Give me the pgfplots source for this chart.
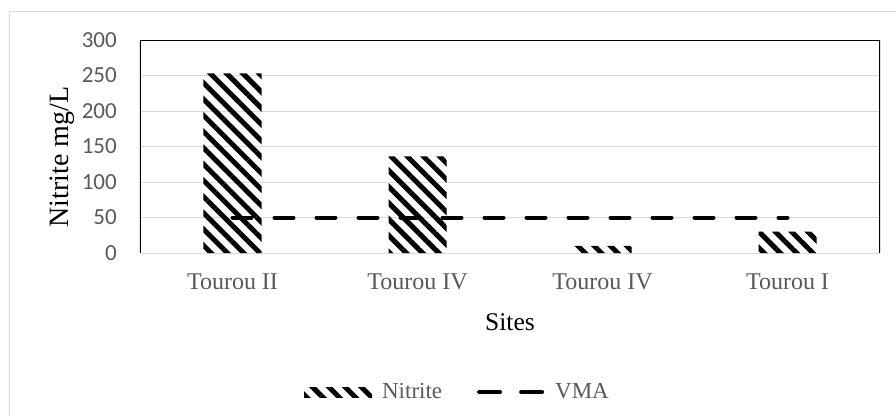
\documentclass[border=0pt]{standalone}
\usepackage{pgfplots}
\pgfplotsset{compat=1.18}
\usetikzlibrary{patterns.meta}
\usepackage{fontspec}
\setmainfont{Liberation Serif}
\newfontfamily\calibri{Carlito}
\definecolor{txtgray}{HTML}{595959}
\definecolor{gridgray}{HTML}{D9D9D9}
\tikzset{stripes/.style={pattern={Lines[angle=-45,distance=11.5pt,line width=5pt]},pattern color=black}}
\pgfplotsset{
  barlegend/.style={legend image code/.code={\fill[stripes] (0pt,-5pt) rectangle (68pt,5pt); \path (0pt,0pt) -- (76pt,0pt);}},
  linelegend/.style={legend image code/.code={\draw[##1] (2pt,0pt) -- (64pt,0pt); \path (0pt,0pt) -- (72pt,0pt);}},
}
\begin{document}
\begin{tikzpicture}
\begin{axis}[
scale only axis,
width=740pt, height=213pt,
xmin=-0.5, xmax=3.5,
ymin=0, ymax=300,
xtick=data,
xticklabels={Tourou II,Tourou IV,Tourou IV,Tourou I},
ytick={0,50,100,150,200,250,300},
major tick length=0pt,
ymajorgrids, grid style={gridgray, line width=1pt},
axis line style={draw=none},
/pgf/number format/assume math mode=true,
yticklabel style={font=\calibri\fontsize{23}{23}\selectfont, text=txtgray, anchor=east, inner sep=0pt, xshift=-23pt},
xticklabel style={font=\fontsize{24}{24}\selectfont, text=txtgray, anchor=north, inner sep=0pt, yshift=-21pt},
xlabel={Sites},
ylabel={Nitrite mg/L},
xlabel style={font=\fontsize{25.5}{25.5}\selectfont, at={(0.5,-0.324)}, anchor=center},
ylabel style={font=\fontsize{28}{28}\selectfont, at={(-0.105,0.45)}, anchor=center},
legend style={at={(0.429,-0.653)}, anchor=center, draw=none, fill=none,
  font=\fontsize{23}{23}\selectfont, text=txtgray,
  /tikz/every even column/.append style={column sep=33pt},
  /tikz/every odd column/.append style={column sep=0pt}},
legend columns=2,
legend cell align=left,
]
\addplot[ybar, bar width=58pt, draw=none, stripes, barlegend]
coordinates {(0,253)(1,136)(2,10)(3,30)};
\addlegendentry{Nitrite}
\addplot[black, line width=4pt, line cap=round, dash pattern=on 19pt off 23pt, linelegend]
coordinates {(0,50)(1,50)(2,50)(3,50)};
\addlegendentry{VMA}
\draw[black, line width=1.2pt] (rel axis cs:0,0) -- (rel axis cs:0,1) -- (rel axis cs:1,1) -- (rel axis cs:1,0);
\end{axis}
\draw[gridgray, line width=1pt] (-130pt,-163pt) -- (-130pt,242pt) -- (756pt,242pt);
\pgfresetboundingbox
\useasboundingbox (-140pt,-163pt) rectangle (756pt,253pt);
\end{tikzpicture}
\end{document}
